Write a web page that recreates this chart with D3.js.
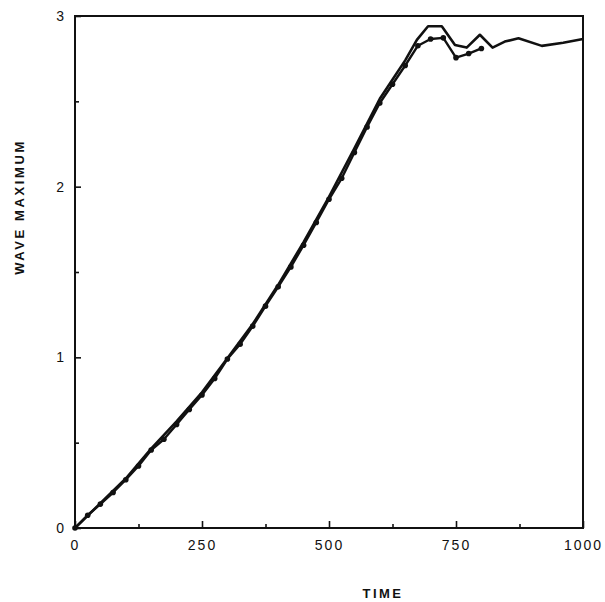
<!DOCTYPE html>
<html>
<head>
<meta charset="utf-8">
<script src="https://cdn.jsdelivr.net/npm/d3@7"></script>
<style>
  html, body { margin: 0; padding: 0; background: #fff; }
  svg { display: block; }
  text { font-family: "Liberation Sans", Arial, Helvetica, sans-serif; fill: #111; }
</style>
</head>
<body>
<svg id="chart" width="605" height="602"></svg>
<script>
// Wave maximum vs. time: continuous run (solid) and sampled run (dots)
const solidTime  = [0, 50, 100, 150, 200, 250, 300, 350, 400, 450, 500, 550, 600, 650, 673, 695, 722, 748, 771, 797, 822, 846, 873, 919, 961, 1000];
const solidValue = [0, 0.145, 0.29, 0.465, 0.625, 0.795, 0.995, 1.195, 1.425, 1.675, 1.94, 2.225, 2.515, 2.74, 2.86, 2.94, 2.94, 2.83, 2.815, 2.89, 2.815, 2.85, 2.87, 2.825, 2.843, 2.865];

const dotTime  = [0, 25, 50, 75, 100, 125, 150, 175, 200, 225, 250, 275, 300, 325, 350, 375, 400, 425, 450, 475, 500, 525, 550, 575, 600, 625, 650, 675, 700, 725, 750, 775, 800];
const dotValue = [0, 0.075, 0.14, 0.208, 0.283, 0.363, 0.457, 0.52, 0.607, 0.694, 0.779, 0.876, 0.99, 1.077, 1.183, 1.3, 1.413, 1.53, 1.657, 1.79, 1.926, 2.049, 2.2, 2.35, 2.49, 2.6, 2.71, 2.826, 2.865, 2.872, 2.756, 2.78, 2.81];

const xTicks = [0, 250, 500, 750, 1000];
const xMinorTicks = [125, 375, 625, 875];
const yTicks = [0, 1, 2, 3];
const yMinorTicks = [0.5, 1.5, 2.5];

const svg = d3.select("#chart");
const plotLeft = 75, plotRight = 583, plotTop = 16, plotBottom = 528;

const x = d3.scaleLinear().domain([0, 1000]).range([plotLeft, plotRight]);
const y = d3.scaleLinear().domain([0, 3]).range([plotBottom, plotTop]);

// Frame
svg.append("rect")
  .attr("x", plotLeft).attr("y", plotTop)
  .attr("width", plotRight - plotLeft).attr("height", plotBottom - plotTop)
  .attr("fill", "none").attr("stroke", "#111").attr("stroke-width", 2);

// Axes with inward ticks
const xAxis = svg.append("g").attr("transform", `translate(0,${plotBottom})`)
  .call(d3.axisBottom(x).tickValues(xTicks).tickSize(-7).tickPadding(12).tickFormat(d3.format("d")));
const xMinor = svg.append("g").attr("transform", `translate(0,${plotBottom})`)
  .call(d3.axisBottom(x).tickValues(xMinorTicks).tickSize(-4).tickFormat(""));
const yAxis = svg.append("g").attr("transform", `translate(${plotLeft},0)`)
  .call(d3.axisLeft(y).tickValues(yTicks).tickSize(-6).tickPadding(9).tickFormat(d3.format("d")));
const yMinor = svg.append("g").attr("transform", `translate(${plotLeft},0)`)
  .call(d3.axisLeft(y).tickValues(yMinorTicks).tickSize(-4).tickFormat(""));

[xAxis, xMinor, yAxis, yMinor].forEach(g => {
  g.select(".domain").remove();
  g.selectAll(".tick line").attr("stroke", "#111").attr("stroke-width", 1.6);
  g.selectAll(".tick text")
    .style("font-size", "14px")
    .style("letter-spacing", "2px")
    .attr("fill", "#111");
});

// Curves
const line = d3.line().x(d => x(d[0])).y(d => y(d[1]));

svg.append("path")
  .datum(solidTime.map((t, i) => [t, solidValue[i]]))
  .attr("d", line)
  .attr("fill", "none").attr("stroke", "#111")
  .attr("stroke-width", 2.6).attr("stroke-linejoin", "round");

const dotData = dotTime.map((t, i) => [t, dotValue[i]]);
svg.append("path")
  .datum(dotData)
  .attr("d", line)
  .attr("fill", "none").attr("stroke", "#111")
  .attr("stroke-width", 2.4).attr("stroke-linejoin", "round");

svg.append("g").selectAll("circle")
  .data(dotData)
  .join("circle")
  .attr("cx", d => x(d[0])).attr("cy", d => y(d[1]))
  .attr("r", 2.8).attr("fill", "#111");

// Axis titles
svg.append("text")
  .attr("x", 383).attr("y", 598)
  .attr("text-anchor", "middle")
  .style("font-size", "13px").style("font-weight", "bold").style("letter-spacing", "2.5px")
  .text("TIME");

svg.append("text")
  .attr("transform", "translate(24,207) rotate(-90)")
  .attr("text-anchor", "middle")
  .style("font-size", "13px").style("font-weight", "bold").style("letter-spacing", "2.6px")
  .text("WAVE MAXIMUM");
</script>
</body>
</html>
